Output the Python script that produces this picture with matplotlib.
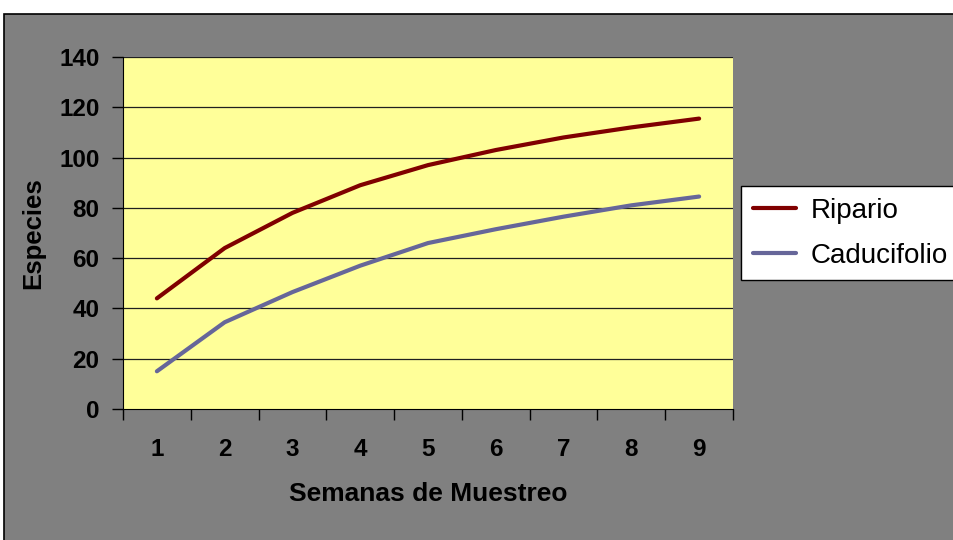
import matplotlib
matplotlib.use("Agg")
import matplotlib.pyplot as plt
from matplotlib.patches import Rectangle

semanas = [1, 2, 3, 4, 5, 6, 7, 8, 9]
ripario = [44, 64, 78, 89, 97, 103, 108, 112, 115.5]
caducifolio = [15, 34.5, 46.5, 57, 66, 71.5, 76.5, 81, 84.5]
yticks = [0, 20, 40, 60, 80, 100, 120, 140]

plt.rcParams['font.family'] = ['Liberation Sans', 'DejaVu Sans']

W, H = 954, 540
fig = plt.figure(figsize=(W / 100, H / 100), dpi=100)
fig.patch.set_facecolor('white')

# gray chart area with black border (top & left visible)
bg = Rectangle((4 / W, -0.05), 1.1, 1 - 14 / H + 0.05, transform=fig.transFigure,
               facecolor='#808080', edgecolor='black', linewidth=1.2, zorder=-10)
fig.patches.append(bg)

ax = fig.add_axes([123 / W, 1 - 409 / H, (733 - 123) / W, (409 - 57) / H])
ax.set_zorder(1)
ax.set_facecolor('#FFFF99')
ax.plot(semanas, ripario, color='#800000', lw=3.0, label='Ripario', solid_capstyle='round', zorder=3)
ax.plot(semanas, caducifolio, color='#666699', lw=3.0, label='Caducifolio', solid_capstyle='round', zorder=3)

ax.set_xlim(0.5, 9.5)
ax.set_ylim(0, 140)
ax.set_yticks(yticks)
ax.set_yticklabels([str(v) for v in yticks], fontsize=17.5, fontweight='bold')
ax.set_xticks([x + 0.5 for x in [0] + semanas])
ax.set_xticklabels([])
ax.set_xticks(semanas, minor=True)
ax.set_xticklabels([str(s) for s in semanas], minor=True, fontsize=17.5, fontweight='bold')
ax.tick_params(axis='x', which='minor', length=0, pad=21)
ax.tick_params(axis='x', which='major', length=8, width=1, direction='out')
ax.tick_params(axis='y', length=8, width=1, direction='out', pad=9)

for v in yticks[1:]:
    ax.axhline(v, color='#202020', lw=0.9, zorder=1)

for s in ['top', 'right']:
    ax.spines[s].set_visible(False)
ax.spines['left'].set_color('black')
ax.spines['bottom'].set_color('black')

ax.set_xlabel('Semanas de Muestreo', fontsize=19, fontweight='bold', labelpad=15)
ax.set_ylabel('Especies', fontsize=18.5, fontweight='bold', labelpad=10)

leg = fig.legend(loc='upper left', bbox_to_anchor=(741 / W, 1 - 186 / H),
                 fontsize=20, frameon=True, fancybox=False, handlelength=1.55,
                 handletextpad=0.55, borderpad=0.42, labelspacing=0.68,
                 borderaxespad=0, framealpha=1)
leg.get_frame().set_edgecolor('black')
leg.get_frame().set_facecolor('white')
leg.get_frame().set_linewidth(1.0)
leg.set_zorder(5)
for h in leg.get_lines():
    h.set_linewidth(3.0)

fig.savefig('out.png', dpi=100)
